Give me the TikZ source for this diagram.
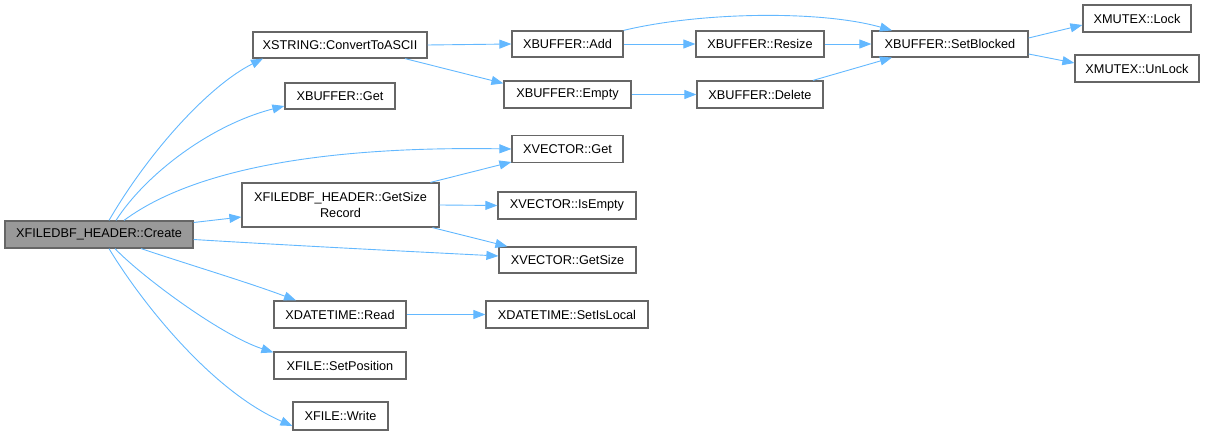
\documentclass[tikz,border=0pt]{standalone}
\usepackage{fontspec}
\setmainfont{Liberation Sans}
\usetikzlibrary{arrows.meta}
\definecolor{edgec}{HTML}{63B8FF}
\definecolor{borderc}{HTML}{666666}
\definecolor{rootfill}{HTML}{999999}
\tikzset{
  fn/.style={draw=borderc, line width=1.2pt, fill=white, inner sep=0pt, align=center,
    font=\fontsize{12.7}{15.5}\selectfont, text=black},
  rootfn/.style={fn, fill=rootfill},
  call/.style={draw=edgec, line width=0.9pt, -{Triangle[length=12pt,width=9pt]}},
}
\begin{document}
\begin{tikzpicture}[x=1pt,y=-1pt]
\useasboundingbox (0,0) rectangle (1205,435);
% nodes
\node[rootfn, minimum width=188pt, minimum height=27pt] (create) at (99,234.5) {XFILEDBF\_HEADER::Create};
\node[fn, minimum width=174pt, minimum height=26pt] (conv) at (340,45) {XSTRING::ConvertToASCII};
\node[fn, minimum width=110pt, minimum height=26pt] (bget) at (340,96) {XBUFFER::Get};
\node[fn, minimum width=111pt, minimum height=26pt] (add) at (567.5,44) {XBUFFER::Add};
\node[fn, minimum width=127pt, minimum height=27pt] (empty) at (567.5,94.5) {XBUFFER::Empty};
\node[fn, minimum width=128pt, minimum height=26pt] (resize) at (760,44) {XBUFFER::Resize};
\node[fn, minimum width=126pt, minimum height=27pt] (delete) at (760,94.5) {XBUFFER::Delete};
\node[fn, minimum width=156pt, minimum height=26pt] (setb) at (950,44) {XBUFFER::SetBlocked};
\node[fn, minimum width=108pt, minimum height=27pt] (lock) at (1137,18.5) {XMUTEX::Lock};
\node[fn, minimum width=124pt, minimum height=27pt] (unlock) at (1137,68.5) {XMUTEX::UnLock};
\node[fn, minimum width=111pt, minimum height=27pt] (vget) at (567.5,149) {XVECTOR::Get};
\node[fn, minimum width=197pt, minimum height=44pt] (rec) at (340.5,205) {XFILEDBF\_HEADER::GetSize\\Record};
\node[fn, minimum width=138pt, minimum height=27pt] (isempty) at (567,205.5) {XVECTOR::IsEmpty};
\node[fn, minimum width=137pt, minimum height=26pt] (getsize) at (567.5,260) {XVECTOR::GetSize};
\node[fn, minimum width=132pt, minimum height=27pt] (read) at (340,314.5) {XDATETIME::Read};
\node[fn, minimum width=162pt, minimum height=27pt] (setlocal) at (567,314.5) {XDATETIME::SetIsLocal};
\node[fn, minimum width=132pt, minimum height=27pt] (setpos) at (340,365.5) {XFILE::SetPosition};
\node[fn, minimum width=95pt, minimum height=28pt] (write) at (340.5,416) {XFILE::Write};
% edges from create
\draw[call] ([xshift=10pt]create.north) .. controls (150,150) and (210,85) .. ([xshift=-77pt]conv.south);
\draw[call] ([xshift=17pt]create.north) .. controls (145,175) and (210,125) .. ([yshift=-10pt]bget.west);
\draw[call] ([xshift=25pt]create.north) .. controls (165,190) and (260,145) .. (vget.west);
\draw[call] ([yshift=12pt]create.east) -- ([yshift=-12pt]rec.west);
\draw[call] ([yshift=-5pt]create.east) .. controls (300,246) and (420,252) .. ([yshift=4pt]getsize.west);
\draw[call] ([xshift=42pt]create.south) .. controls (190,265) and (250,283) .. ([xshift=-44pt]read.north);
\draw[call] ([xshift=16pt]create.south) .. controls (140,275) and (220,335) .. ([yshift=-1pt]setpos.north west);
\draw[call] ([xshift=10pt]create.south) .. controls (140,300) and (210,390) .. ([yshift=-10pt]write.west);
% other edges
\draw[call] (conv.east) -- (add.west);
\draw[call] ([xshift=65pt]conv.south) -- ([yshift=-3pt]empty.north west);
\draw[call] (add.north east) .. controls (700,12) and (820,10) .. ([xshift=-58pt]setb.north);
\draw[call] (add.east) -- (resize.west);
\draw[call] (empty.east) -- (delete.west);
\draw[call] (resize.east) -- (setb.west);
\draw[call] ([xshift=53pt]delete.north) -- ([xshift=-58pt]setb.south);
\draw[call] ([yshift=6pt]setb.east) -- ([yshift=-6.5pt]lock.west);
\draw[call] ([yshift=-10pt]setb.east) -- ([yshift=5.5pt]unlock.west);
\draw[call] ([xshift=90pt]rec.north) -- ([yshift=-13pt]vget.west);
\draw[call] (rec.east) -- (isempty.west);
\draw[call] ([xshift=92pt]rec.south) -- ([xshift=9pt]getsize.north west);
\draw[call] (read.east) -- (setlocal.west);
\end{tikzpicture}
\end{document}
